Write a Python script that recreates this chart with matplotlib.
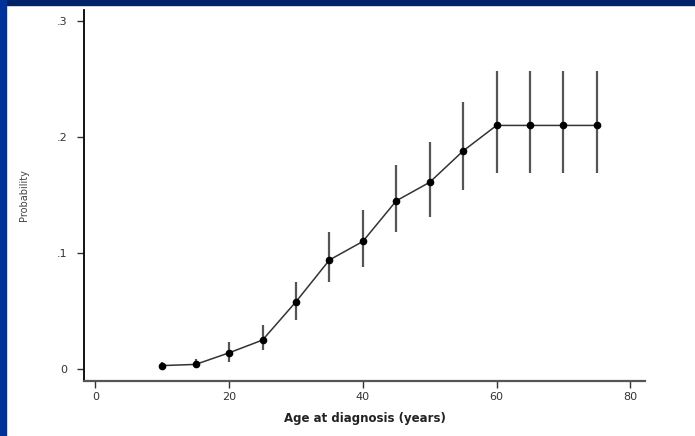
import numpy as np
import matplotlib.pyplot as plt
from matplotlib.patches import Rectangle

# age at diagnosis and probability with confidence limits
ages = [10, 15, 20, 25, 30, 35, 40, 45, 50, 55, 60, 65, 70, 75]
prob = [0.003, 0.004, 0.014, 0.025, 0.058, 0.094, 0.110, 0.145, 0.161, 0.188, 0.210, 0.210, 0.210, 0.210]
lower = [0.0005, 0.0005, 0.006, 0.016, 0.042, 0.075, 0.088, 0.118, 0.131, 0.154, 0.169, 0.169, 0.169, 0.169]
upper = [0.006, 0.009, 0.023, 0.038, 0.075, 0.118, 0.137, 0.176, 0.196, 0.230, 0.257, 0.257, 0.257, 0.257]

xticks = [0, 20, 40, 60, 80]
yticks = [0, 0.1, 0.2, 0.3]
ylabels = ['0', '.1', '.2', '.3']

W, H = 695, 436
fig = plt.figure(figsize=(W / 100, H / 100), dpi=100)
fig.patch.set_facecolor('white')

# navy slide frame
fig.patches.append(Rectangle((0, 1 - 5 / H), 1, 5 / H, transform=fig.transFigure,
                             color='#002266', zorder=0))
fig.patches.append(Rectangle((0, 0), 6 / W, 1, transform=fig.transFigure,
                             color='#003399', zorder=0))

ax = fig.add_axes([84 / W, 1 - 381 / H, (645 - 84) / W, (381 - 10) / H])

prob = np.array(prob)
err = [prob - np.array(lower), np.array(upper) - prob]
ax.errorbar(ages, prob, yerr=err, fmt='none', ecolor='#555555', elinewidth=1.6, capsize=0)
ax.plot(ages, prob, color='#333333', lw=1.1, marker='o', markersize=4.5,
        markerfacecolor='black', markeredgecolor='black')

ax.set_xlim(-1.7, 82.2)
ax.set_ylim(-0.0103, 0.3095)
ax.set_xticks(xticks)
ax.set_yticks(yticks)
ax.set_yticklabels(ylabels)

for s in ['top', 'right']:
    ax.spines[s].set_visible(False)
ax.spines['left'].set_color('black')
ax.spines['left'].set_linewidth(1.3)
ax.spines['bottom'].set_color('#555555')
ax.spines['bottom'].set_linewidth(1.6)

ax.tick_params(axis='both', direction='out', length=5, width=1, color='#333333',
               labelsize=8, labelcolor='#333333', pad=3)
ax.tick_params(axis='y', pad=7)
ax.set_xlabel('Age at diagnosis (years)', fontsize=8.5, fontweight='bold', color='#222222', labelpad=7)
ax.set_ylabel('Probability', fontsize=7, color='#444444', labelpad=20)

fig.savefig('out.png', dpi=100)
